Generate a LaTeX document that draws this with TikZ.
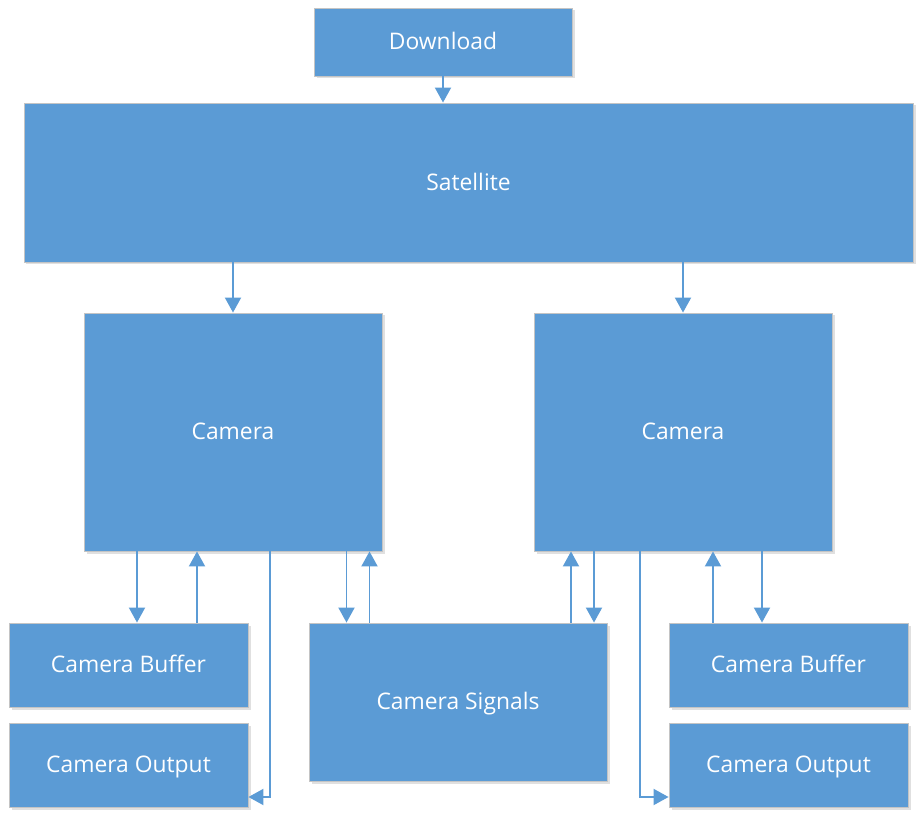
\documentclass[tikz,border=0pt]{standalone}
\usepackage{fontspec}
\setmainfont{Open Sans}
\usepackage{tikz}
\usetikzlibrary{arrows.meta,positioning,shadows}
\definecolor{boxblue}{HTML}{5B9BD5}
\definecolor{boxline}{HTML}{C4C4C4}
\tikzstyle{block} = [rectangle, fill=boxblue, draw=boxline, line width=0.5pt, text=white, font=\fontsize{13}{15}\selectfont, text height=0.9em, text depth=0pt, drop shadow={shadow xshift=0.05cm, shadow yshift=-0.05cm, fill=black, opacity=0.12}]
\tikzstyle{arrow} = [draw=boxblue, line width=1.1pt, -{Triangle[width=0.32cm,length=0.30cm]}]

\begin{document}
\begin{tikzpicture}
    \useasboundingbox (0,0) rectangle (18.38,-16.40);
    \node [block, minimum width=5.16cm, minimum height=1.36cm] (down) at (8.86,-0.84) {Download};
    \node [block, minimum width=17.78cm, minimum height=3.18cm] (sat) at (9.37,-3.65) {Satellite};
    \node [block, minimum width=5.96cm, minimum height=4.76cm] (camL) at (4.66,-8.64) {Camera};
    \node [block, minimum width=5.96cm, minimum height=4.76cm] (camR) at (13.66,-8.64) {Camera};
    \node [block, minimum width=4.78cm, minimum height=1.68cm] (bufL) at (2.57,-13.30) {Camera Buffer};
    \node [block, minimum width=4.78cm, minimum height=1.68cm] (outL) at (2.57,-15.30) {Camera Output};
    \node [block, minimum width=5.96cm, minimum height=3.16cm] (sig) at (9.16,-14.04) {Camera Signals};
    \node [block, minimum width=4.78cm, minimum height=1.68cm] (bufR) at (15.77,-13.30) {Camera Buffer};
    \node [block, minimum width=4.78cm, minimum height=1.68cm] (outR) at (15.77,-15.30) {Camera Output};

    % top
    \draw [arrow] (down.south) -- (sat.north -| down.south);
    \draw [arrow] (sat.south -| camL.north) -- (camL.north);
    \draw [arrow] (sat.south -| camR.north) -- (camR.north);

    % left camera
    \draw [arrow] ([xshift=0.17cm]bufL.north |- camL.south) -- ([xshift=0.17cm]bufL.north);
    \draw [arrow] ([xshift=1.37cm]bufL.north) -- ([xshift=1.37cm]bufL.north |- camL.south);
    \draw [arrow] ([xshift=0.74cm]camL.south) |- ([yshift=-0.64cm]outL.east);
    \draw [arrow] ([xshift=-2.23cm]sig.north |- camL.south) -- ([xshift=-2.23cm]sig.north);
    \draw [arrow] ([xshift=-1.77cm]sig.north) -- ([xshift=-1.77cm]sig.north |- camL.south);

    % right camera
    \draw [arrow] ([xshift=2.26cm]sig.north) -- ([xshift=2.26cm]sig.north |- camR.south);
    \draw [arrow] ([xshift=2.72cm]sig.north |- camR.south) -- ([xshift=2.72cm]sig.north);
    \draw [arrow] ([xshift=-0.86cm]camR.south) |- ([yshift=-0.64cm]outR.west);
    \draw [arrow] ([xshift=-1.51cm]bufR.north) -- ([xshift=-1.51cm]bufR.north |- camR.south);
    \draw [arrow] ([xshift=-0.53cm]bufR.north |- camR.south) -- ([xshift=-0.53cm]bufR.north);
\end{tikzpicture}
\end{document}
